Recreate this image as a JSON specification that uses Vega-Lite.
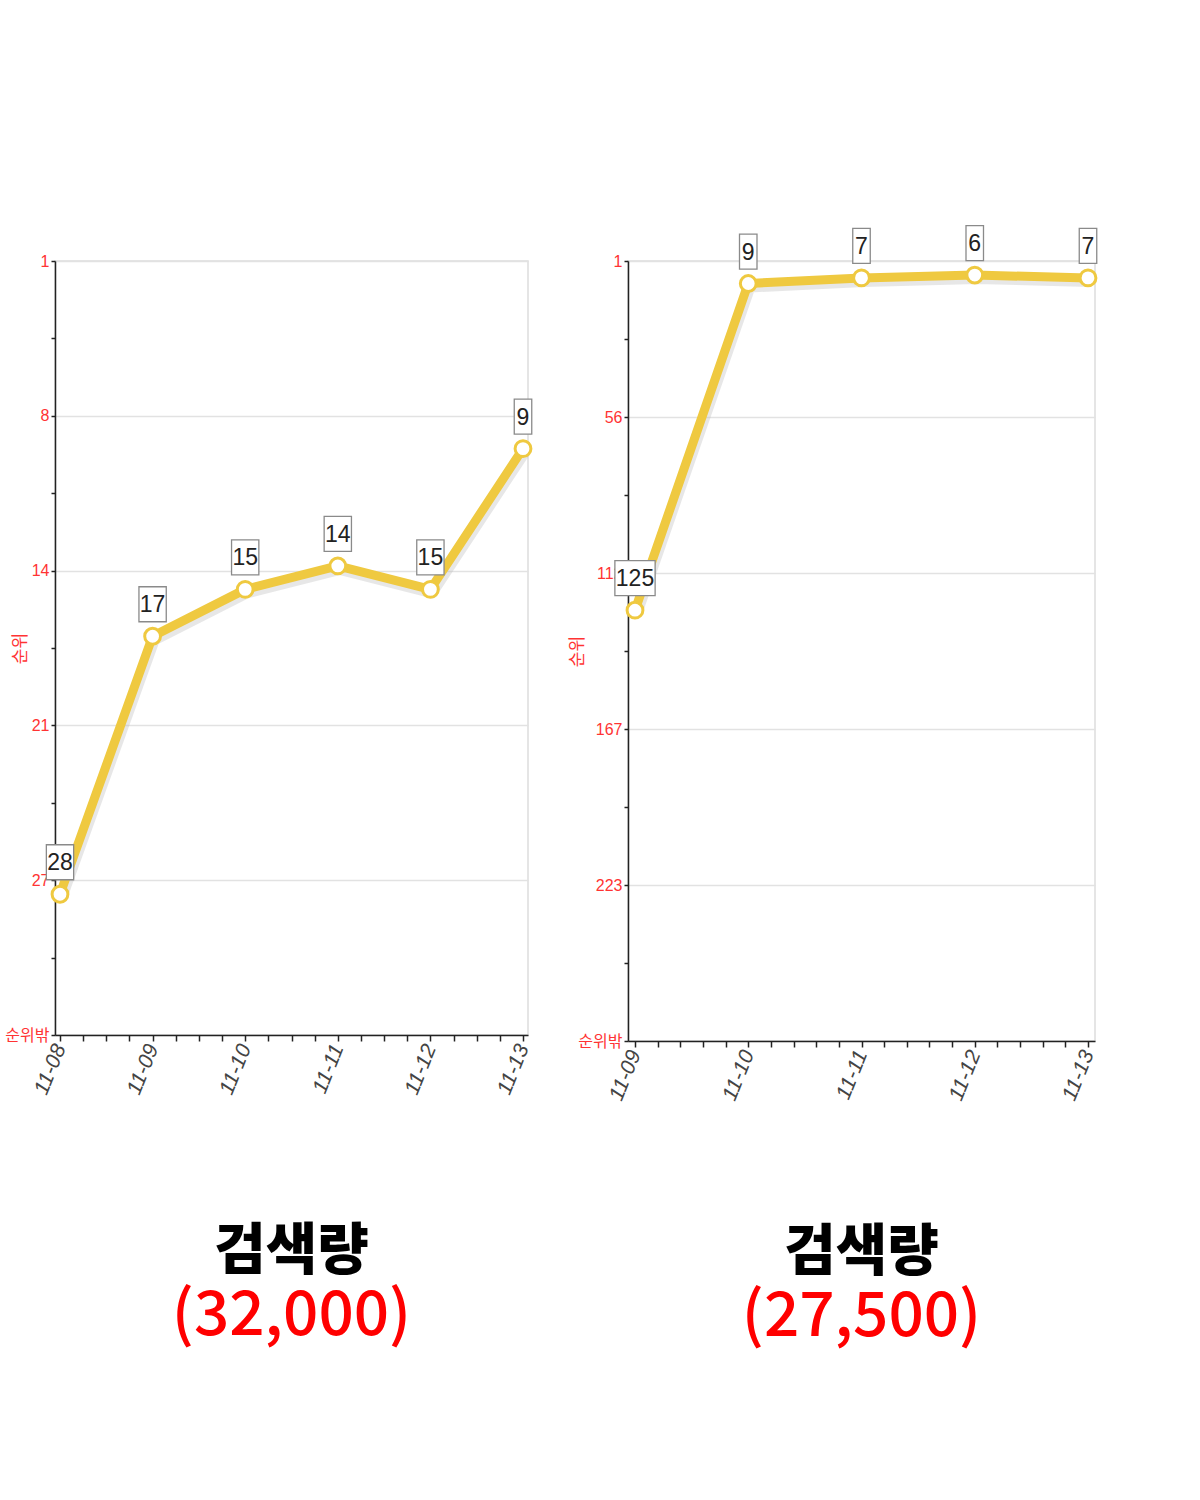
{
  "$schema": "https://vega.github.io/schema/vega-lite/v6.json",
  "background": "white",
  "padding": {"left": 4, "top": 222, "right": 0, "bottom": 0},
  "bounds": "flush",
  "spacing": 100,
  "datasets": {
    "left": [
      {"date": "2023-11-08", "rank": 28},
      {"date": "2023-11-09", "rank": 17},
      {"date": "2023-11-10", "rank": 15},
      {"date": "2023-11-11", "rank": 14},
      {"date": "2023-11-12", "rank": 15},
      {"date": "2023-11-13", "rank": 9}
    ],
    "right": [
      {"date": "2023-11-09", "rank": 125},
      {"date": "2023-11-10", "rank": 9},
      {"date": "2023-11-11", "rank": 7},
      {"date": "2023-11-12", "rank": 6},
      {"date": "2023-11-13", "rank": 7}
    ]
  },
  "config": {
    "view": {"stroke": "#dddddd", "strokeWidth": 1.5},
    "axis": {
      "labelFont": "Liberation Sans, Noto Sans CJK KR, sans-serif",
      "titleFont": "Noto Sans CJK KR",
      "domainColor": "#222222",
      "domainWidth": 1.5,
      "tickColor": "#222222",
      "tickWidth": 1.5,
      "gridColor": "#e2e2e2",
      "gridWidth": 1.5
    },
    "title": {
      "font": "Noto Sans CJK KR",
      "fontSize": 56,
      "fontWeight": 900,
      "color": "#000000",
      "subtitleFont": "Noto Sans CJK KR",
      "subtitleFontSize": 62,
      "subtitleFontWeight": 500,
      "subtitleColor": "#ff0000",
      "subtitlePadding": 5,
      "anchor": "middle"
    }
  },
  "hconcat": [
    {
      "width": 473,
      "height": 774,
      "data": {"name": "left"},
      "title": {"text": "검색량", "subtitle": "(32,000)", "orient": "bottom", "offset": 128},
      "transform": [{"calculate": "length(toString(datum.rank))", "as": "digits"}],
      "encoding": {
        "x": {
          "field": "date", "type": "temporal",
          "scale": {"type": "utc", "nice": false, "padding": 5},
          "axis": {
            "title": null,
            "grid": false,
            "values": [1699401600000, 1699423200000, 1699444800000, 1699466400000, 1699488000000, 1699509600000, 1699531200000, 1699552800000, 1699574400000, 1699596000000, 1699617600000, 1699639200000, 1699660800000, 1699682400000, 1699704000000, 1699725600000, 1699747200000, 1699768800000, 1699790400000, 1699812000000, 1699833600000],
            "labelExpr": "utchours(datum.value) == 0 ? utcFormat(datum.value, '%m-%d') : ''",
            "labelAngle": -68,
            "labelAlign": "right",
            "labelBaseline": "middle",
            "labelFontSize": 21,
            "labelFontStyle": "italic",
            "labelColor": "#444444",
            "labelPadding": 4,
            "labelOverlap": false,
            "labelFlush": false,
            "tickSize": 6
          }
        },
        "y": {
          "field": "rank", "type": "quantitative",
          "scale": {"domain": [1, 34], "reverse": true, "nice": false, "zero": false},
          "axis": {
            "title": "순위",
            "titleColor": "#ff3333",
            "titleFontSize": 17,
            "titleFontWeight": "normal",
            "titleX": -26,
            "values": [1, 4.3, 7.6, 10.9, 14.2, 17.5, 20.8, 24.1, 27.4, 30.7, 34],
            "labelExpr": "datum.value == 34 ? '순위밖' : (indexof([1, 7.6, 14.2, 20.8, 27.4], datum.value) >= 0 ? format(datum.value, '.0f') : '')",
            "gridOpacity": {"condition": {"test": "indexof([1, 7.6, 14.2, 20.8, 27.4], datum.value) >= 0", "value": 1}, "value": 0},
            "labelColor": "#ff3333",
            "labelFontSize": 16,
            "labelPadding": 2,
            "labelOverlap": false,
            "labelFlush": false,
            "tickSize": 4
          }
        }
      },
      "layer": [
        {"mark": {"type": "line", "color": "#bbbbbb", "opacity": 0.35, "strokeWidth": 10, "xOffset": 2, "yOffset": 4, "strokeJoin": "round"}},
        {"mark": {"type": "line", "color": "#EFC940", "strokeWidth": 9, "strokeJoin": "round", "strokeCap": "round"}},
        {"mark": {"type": "point", "filled": true, "fill": "white", "stroke": "#EFC940", "strokeWidth": 3, "size": 250, "opacity": 1}},
        {
          "mark": {"type": "point", "filled": true, "fill": "white", "stroke": "#8a8a8a", "strokeWidth": 1.3, "size": 1225, "yOffset": -32, "opacity": 1},
          "encoding": {"shape": {"field": "digits", "type": "ordinal", "scale": {"domain": [1, 2, 3], "range": ["M-0.5,-1H0.5V1H-0.5Z", "M-0.78,-1H0.78V1H-0.78Z", "M-1.15,-1H1.15V1H-1.15Z"]}, "legend": null}}
        },
        {
          "mark": {"type": "text", "font": "Liberation Sans, sans-serif", "fontSize": 23, "color": "#222222", "baseline": "middle", "yOffset": -31},
          "encoding": {"text": {"field": "rank", "type": "quantitative"}}
        }
      ]
    },
    {
      "width": 467,
      "height": 780,
      "data": {"name": "right"},
      "title": {"text": "검색량", "subtitle": "(27,500)", "orient": "bottom", "offset": 123},
      "transform": [{"calculate": "length(toString(datum.rank))", "as": "digits"}],
      "encoding": {
        "x": {
          "field": "date", "type": "temporal",
          "scale": {"type": "utc", "nice": false, "padding": 7},
          "axis": {
            "title": null,
            "grid": false,
            "values": [1699488000000, 1699505280000, 1699522560000, 1699539840000, 1699557120000, 1699574400000, 1699591680000, 1699608960000, 1699626240000, 1699643520000, 1699660800000, 1699678080000, 1699695360000, 1699712640000, 1699729920000, 1699747200000, 1699764480000, 1699781760000, 1699799040000, 1699816320000, 1699833600000],
            "labelExpr": "utchours(datum.value) == 0 && utcminutes(datum.value) == 0 ? utcFormat(datum.value, '%m-%d') : ''",
            "labelAngle": -68,
            "labelAlign": "right",
            "labelBaseline": "middle",
            "labelFontSize": 21,
            "labelFontStyle": "italic",
            "labelColor": "#444444",
            "labelPadding": 4,
            "labelOverlap": false,
            "labelFlush": false,
            "tickSize": 6
          }
        },
        "y": {
          "field": "rank", "type": "quantitative",
          "scale": {"domain": [1, 278], "reverse": true, "nice": false, "zero": false},
          "axis": {
            "title": "순위",
            "titleColor": "#ff3333",
            "titleFontSize": 17,
            "titleFontWeight": "normal",
            "titleX": -42,
            "values": [1, 28.7, 56.4, 84.1, 111.8, 139.5, 167.2, 194.9, 222.6, 250.3, 278],
            "labelExpr": "datum.value == 278 ? '순위밖' : (indexof([1, 56.4, 111.8, 167.2, 222.6], datum.value) >= 0 ? format(datum.value, '.0f') : '')",
            "gridOpacity": {"condition": {"test": "indexof([1, 56.4, 111.8, 167.2, 222.6], datum.value) >= 0", "value": 1}, "value": 0},
            "labelColor": "#ff3333",
            "labelFontSize": 16,
            "labelPadding": 2,
            "labelOverlap": false,
            "labelFlush": false,
            "tickSize": 4
          }
        }
      },
      "layer": [
        {"mark": {"type": "line", "color": "#bbbbbb", "opacity": 0.35, "strokeWidth": 10, "xOffset": 2, "yOffset": 4, "strokeJoin": "round"}},
        {"mark": {"type": "line", "color": "#EFC940", "strokeWidth": 9, "strokeJoin": "round", "strokeCap": "round"}},
        {"mark": {"type": "point", "filled": true, "fill": "white", "stroke": "#EFC940", "strokeWidth": 3, "size": 250, "opacity": 1}},
        {
          "mark": {"type": "point", "filled": true, "fill": "white", "stroke": "#8a8a8a", "strokeWidth": 1.3, "size": 1225, "yOffset": -32, "opacity": 1},
          "encoding": {"shape": {"field": "digits", "type": "ordinal", "scale": {"domain": [1, 2, 3], "range": ["M-0.5,-1H0.5V1H-0.5Z", "M-0.78,-1H0.78V1H-0.78Z", "M-1.15,-1H1.15V1H-1.15Z"]}, "legend": null}}
        },
        {
          "mark": {"type": "text", "font": "Liberation Sans, sans-serif", "fontSize": 23, "color": "#222222", "baseline": "middle", "yOffset": -31},
          "encoding": {"text": {"field": "rank", "type": "quantitative"}}
        }
      ]
    }
  ]
}
